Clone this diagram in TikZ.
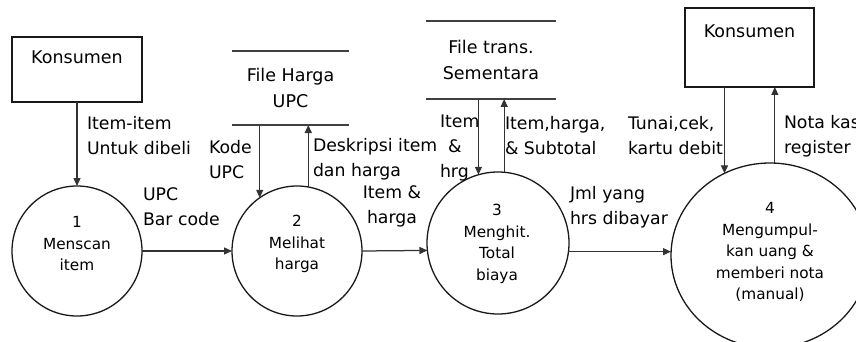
\documentclass[tikz,border=0pt]{standalone}
\usepackage{fontspec}
\setmainfont{DejaVu Sans}
\usetikzlibrary{arrows.meta,shapes.geometric}
\begin{document}
\begin{tikzpicture}[x=1pt,y=-1pt,
  every node/.style={inner sep=0pt, outer sep=0pt, text=black},
  ink/.style={draw=black!90, line width=1.3pt},
  entity/.style={ink, rectangle, font=\fontsize{17.5}{22}\selectfont, text height=13pt},
  proc/.style={ink, circle},
  proctext/.style={align=center, font=\fontsize{15.3}{21.5}\selectfont},
  store/.style={align=center, font=\fontsize{17.5}{26}\selectfont},
  storeline/.style={draw=black!75, line width=1.6pt},
  flowlabel/.style={align=left, font=\fontsize{17.3}{25}\selectfont},
  flow/.style={draw=black!80, line width=1.25pt, -{Triangle[length=8pt,width=7pt]}},
]
\useasboundingbox (0,0) rectangle (856,342);
\fill[white] (0,0) rectangle (856,342);

% external entities
\node[entity, minimum width=130pt, minimum height=65pt, text depth=24pt] (k1) at (77,69.5) {Konsumen};
\node[entity, minimum width=129pt, minimum height=79pt, text depth=33pt] (k2) at (749.5,47.5) {Konsumen};

% processes
\node[proc, minimum size=130pt] (p1) at (77,251) {};
\node[proctext] (p1t) at (77,244) {1\\Menscan\\item};
\node[proc, minimum size=130pt] (p2) at (297,251) {};
\node[proctext] (p2t) at (297,244) {2\\Melihat\\harga};
\node[proc, minimum size=142pt] (p3) at (498,243) {};
\node[proctext] (p3t) at (497,244) {3\\Menghit.\\Total\\biaya};
\node[ink, ellipse, minimum width=198pt, minimum height=185pt] (p4) at (770,255.5) {};
\node[proctext] (p4t) at (770,252) {4\\Mengumpul-\\kan uang \&\\memberi nota\\(manual)};

% data stores
\node[store, minimum width=117pt, minimum height=74pt] (s1) at (290.5,88) {File Harga\\UPC};
\node[store, minimum width=130pt, minimum height=78pt] (s2) at (491,60) {File trans.\\Sementara};
\draw[storeline] (s1.north west) -- (s1.north east) (s1.south west) -- (s1.south east);
\draw[storeline] (s2.north west) -- (s2.north east) (s2.south west) -- (s2.south east);

% data flows
\draw[flow] (k1.south) -- (p1.north);
\draw[flow] (p1.east) -- (p2.west);
\draw[flow] (s1.south -| p2.125.8) -- (p2.125.8);
\draw[flow] (p2.80.3) -- (p2.80.3 |- s1.south);
\draw[flow] (p2.east) -- (p3.186.5);
\draw[flow] (s2.south -| p3.106.4) -- (p3.106.4);
\draw[flow] (p3.85.1) -- (p3.85.1 |- s2.south);
\draw[flow] (p3.353.5) -- (p3.353.5 -| p4.west);
\draw[flow] (k2.south -| p4.119.3) -- (p4.119.3);
\draw[flow] (p4.87.5) -- (p4.87.5 |- k2.south);

% flow labels
\node[flowlabel, anchor=west] (l1) at (87,135.5) {Item-item\\Untuk dibeli};
\node[flowlabel, anchor=west] (l2) at (143,206.5) {UPC\\Bar code};
\node[flowlabel, anchor=west] (l3) at (209,159.5) {Kode\\UPC};
\node[flowlabel, anchor=west] (l4) at (313,159.5) {Deskripsi item\\dan harga};
\node[flowlabel, align=center] (l5) at (392,206) {Item \&\\harga};
\node[flowlabel, anchor=west] (l6) at (440,147.5) {Item\\\hspace*{8pt}\&\\hrg};
\node[flowlabel, anchor=west] (l7) at (505,136) {Item,harga,\\\& Subtotal};
\node[flowlabel, anchor=west] (l8) at (570,207.5) {Jml yang\\hrs dibayar};
\node[flowlabel, anchor=west] (l9) at (628,136) {Tunai,cek,\\kartu debit};
\node[flowlabel, anchor=west] (l10) at (784,136) {Nota kas\\register};
\end{tikzpicture}
\end{document}
